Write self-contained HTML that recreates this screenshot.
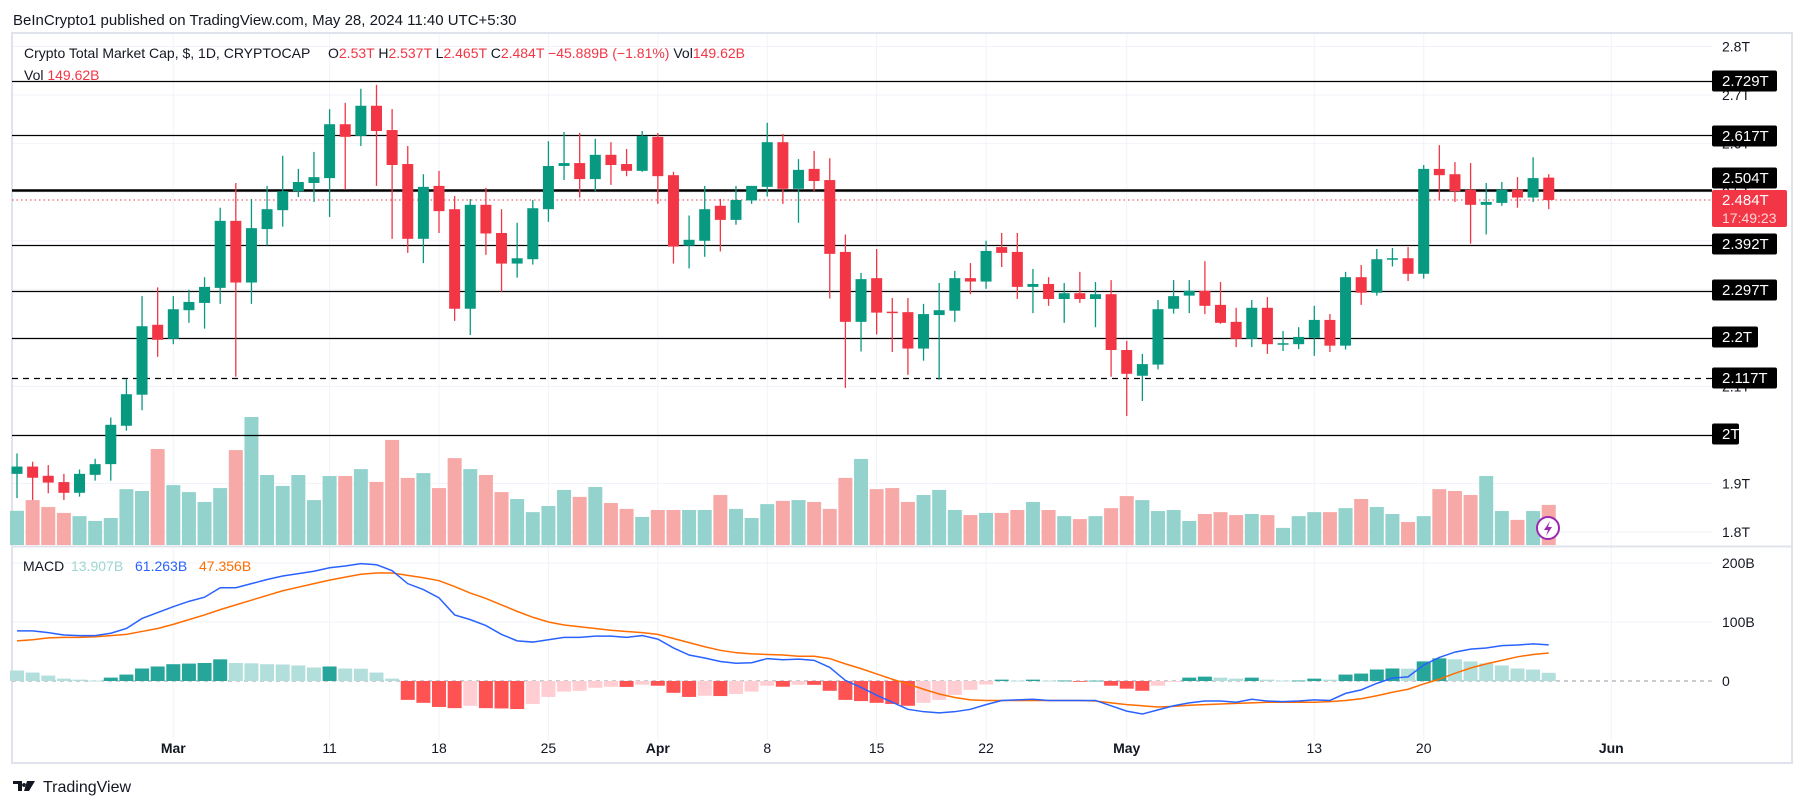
<!DOCTYPE html>
<html><head><meta charset="utf-8"><style>
html,body{margin:0;padding:0;background:#fff;}
svg{display:block;font-family:"Liberation Sans",sans-serif;}
</style></head><body>
<svg id="chart" width="1805" height="808" viewBox="0 0 1805 808">
<text x="13" y="25" font-size="15" fill="#131722">BeInCrypto1 published on TradingView.com, May 28, 2024 11:40 UTC+5:30</text>
<rect x="12" y="33" width="1780" height="730" fill="#fff" stroke="#e0e3eb" stroke-width="2"/>
<g id="grid"></g>
<g id="volume"></g>
<g id="levels"></g>
<g id="candles"></g>
<g id="macd"></g>
<g id="axis"></g>
<g font-size="14">
<text x="24" y="58" fill="#131722">Crypto Total Market Cap, $, 1D, CRYPTOCAP</text>
<text x="328" y="58" fill="#131722">O<tspan fill="#f23645">2.53T</tspan>  H<tspan fill="#f23645">2.537T</tspan>  L<tspan fill="#f23645">2.465T</tspan>  C<tspan fill="#f23645">2.484T</tspan>  <tspan fill="#f23645">−45.889B (−1.81%)</tspan>  Vol<tspan fill="#f23645">149.62B</tspan></text>
<text x="24" y="80" fill="#131722">Vol  <tspan fill="#f23645">149.62B</tspan></text>
</g>
<g font-size="14">
<text x="23" y="571" fill="#131722">MACD</text>
<text x="71" y="571" fill="#9fd6d1">13.907B</text>
<text x="135" y="571" fill="#2962ff">61.263B</text>
<text x="199" y="571" fill="#ff6d00">47.356B</text>
</g>
<g id="icons"></g>
<g><path d="M13 781 h9 v10 h-4 v-7 h-5 z M24 783 a2 2 0 1 0 0.1 0 z M27 781 h8 l-6 10 h-5 z" fill="#131722"/><text x="43" y="792" font-size="16" fill="#131722">TradingView</text></g>
</svg>
<script>
const opens=[1.920,1.935,1.916,1.903,1.881,1.918,1.940,2.019,2.083,2.227,2.198,2.257,2.272,2.303,2.441,2.314,2.424,2.463,2.502,2.519,2.529,2.640,2.616,2.678,2.628,2.558,2.404,2.513,
2.465,2.260,2.474,2.416,2.353,2.362,2.465,2.554,2.560,2.527,2.577,2.558,2.544,2.614,2.535,2.390,2.400,2.472,2.443,2.483,2.511,2.603,2.507,2.548,2.525,2.377,2.233,2.323,
2.254,2.253,2.178,2.247,2.256,2.323,2.316,2.387,2.377,2.305,2.311,2.280,2.292,2.280,2.290,2.175,2.122,2.145,2.260,2.287,2.297,2.268,2.233,2.198,2.262,2.188,2.187,2.200,
2.237,2.184,2.325,2.293,2.363,2.364,2.332,2.548,2.537,2.505,2.474,2.478,2.505,2.489,2.530];
const closes=[1.935,1.912,1.902,1.881,1.920,1.940,2.021,2.084,2.224,2.196,2.259,2.274,2.305,2.441,2.314,2.426,2.465,2.502,2.521,2.531,2.640,2.614,2.678,2.626,2.556,2.404,2.511,2.461,
2.260,2.474,2.415,2.353,2.364,2.467,2.554,2.560,2.527,2.577,2.556,2.544,2.616,2.533,2.388,2.402,2.465,2.443,2.484,2.513,2.603,2.507,2.546,2.523,2.373,2.233,2.321,2.252,
2.252,2.178,2.249,2.257,2.323,2.316,2.379,2.375,2.305,2.311,2.280,2.292,2.280,2.290,2.175,2.126,2.146,2.259,2.286,2.297,2.266,2.231,2.198,2.262,2.187,2.189,2.202,2.237,
2.184,2.325,2.293,2.362,2.364,2.332,2.548,2.535,2.502,2.474,2.480,2.505,2.489,2.529,2.484];
const highs=[1.962,1.945,1.938,1.920,1.929,1.951,2.036,2.115,2.286,2.304,2.286,2.299,2.325,2.468,2.519,2.486,2.513,2.575,2.548,2.583,2.671,2.684,2.713,2.721,2.671,2.595,2.537,2.544,
2.492,2.486,2.509,2.465,2.437,2.484,2.605,2.624,2.622,2.610,2.603,2.589,2.626,2.622,2.542,2.452,2.513,2.486,2.513,2.513,2.643,2.620,2.568,2.585,2.570,2.413,2.334,2.383,
2.282,2.282,2.270,2.313,2.338,2.354,2.400,2.416,2.416,2.342,2.325,2.313,2.336,2.315,2.319,2.194,2.167,2.278,2.319,2.319,2.358,2.315,2.262,2.278,2.284,2.214,2.222,2.266,
2.249,2.336,2.350,2.383,2.385,2.387,2.556,2.597,2.562,2.560,2.519,2.521,2.531,2.572,2.537];
const lows=[1.870,1.866,1.880,1.866,1.873,1.906,1.906,2.009,2.051,2.161,2.187,2.231,2.219,2.270,2.120,2.270,2.390,2.429,2.490,2.480,2.449,2.505,2.595,2.513,2.404,2.375,2.354,2.416,
2.235,2.206,2.371,2.295,2.324,2.351,2.439,2.525,2.489,2.502,2.515,2.533,2.542,2.476,2.353,2.343,2.367,2.378,2.433,2.476,2.491,2.476,2.437,2.502,2.281,2.097,2.172,2.207,
2.171,2.124,2.153,2.114,2.233,2.290,2.301,2.346,2.280,2.251,2.266,2.231,2.272,2.222,2.120,2.039,2.070,2.135,2.250,2.251,2.249,2.229,2.181,2.181,2.167,2.173,2.177,2.163,
2.171,2.176,2.268,2.287,2.347,2.317,2.322,2.484,2.480,2.394,2.413,2.472,2.468,2.480,2.465];
const volumes=[128,168,142,120,108,90,101,209,202,359,224,198,161,213,355,479,262,221,262,168,258,258,284,236,393,251,269,213,
325,284,262,198,172,123,146,206,180,217,157,135,105,131,131,131,131,187,135,101,153,165,168,161,135,251,322,209,
213,161,187,206,131,112,120,120,131,161,131,108,97,108,138,183,168,127,131,90,116,123,112,116,112,64,108,123,
123,138,172,142,116,86,108,209,202,187,258,127,94,127,150];
const macdLine=[85,85,82,78,77,77,81,89,106,116,126,135,142,158,158,165,172,178,182,186,192,195,199,197,187,165,155,141,112,104,94,79,68,66,70,74,74,76,76,74,77,71,56,44,39,33,30,31,38,36,37,
35,23,1,-11,-24,-36,-48,-52,-54,-52,-48,-40,-33,-32,-31,-33,-33,-33,-33,-42,-51,-56,-49,-42,-37,-34,-34,-36,-31,-34,-35,-34,-32,-33,-21,-15,-4,5,7,27,40,49,54,56,60,61,63,61.3];
const signalLine=[68,70,73,74,74,75,77,79,84,89,96,104,112,121,129,137,145,153,159,165,171,176,181,183,183,179,175,170,160,149,140,129,118,108,100,95,92,89,86,84,82,79,72,65,58,52,48,46,45,44,42,
42,38,29,21,12,3,-5,-14,-22,-28,-32,-33,-33,-33,-33,-33,-33,-33,-34,-37,-40,-42,-44,-43,-41,-40,-39,-38,-37,-36,-36,-36,-36,-35,-33,-30,-25,-19,-14,-5,3,13,22,29,35,41,45,47.4];
const histogram=[17.8,14.3,9.2,4,2.3,0.6,5.7,10.9,21.2,24.6,28.5,29.5,30.5,36.7,30.5,30,28.5,28,26.3,22.9,24.6,21.2,20.8,14.3,4,-32,-37,-44,-46,-42,-46,-46.5,-47.5,-39,-27,-18,-16.6,-11.5,-9.7,-10,-6.3,-8,-20,-27,-25,-25.5,-22,-18,-8,-9.7,-6.3,
-6.5,-16.6,-32,-34,-37,-39,-42,-37,-32,-23.5,-15,-6,2.3,0.6,2.3,0.6,0.8,-1,0.6,-8,-13,-16.6,-8,-0.5,5.7,7.4,5.7,4,5.7,2.3,0.6,0.8,4,2.3,10.9,12.6,19.5,21.2,20.8,33.2,38.4,36.7,33.2,29.8,26.3,21.2,19.5,13.9];
const priceTicks=["2.8T","2.7T","2.6T","2.5T","2.4T","2.3T","2.2T","2.1T","2T","1.9T","1.8T"];
const priceTickValues=[2.8,2.7,2.6,2.5,2.4,2.3,2.2,2.1,2.0,1.9,1.8];
const levelValues=[2.729,2.617,2.504,2.392,2.297,2.2,2.117,2.0];
const levelLabels=["2.729T","2.617T","2.504T","2.392T","2.297T","2.2T","2.117T","2T"];
const dateLabels=["Mar","11","18","25","Apr","8","15","22","May","13","20","Jun"];
const dateIndex=[10,20,27,34,41,48,55,62,71,83,90,102];
const macdTicks=["200B","100B","0"];
const macdTickValues=[200,100,0];

const NS="http://www.w3.org/2000/svg";
function mk(tag,attrs,parent){const e=document.createElementNS(NS,tag);for(const k in attrs)e.setAttribute(k,attrs[k]);parent.appendChild(e);return e;}
const xI=i=>17+i*15.63;
const yP=p=>435-(p-2)*485.6;
const yV=v=>545-v*0.2673;
const yM=v=>681-v*0.59;
const G="#089981",R="#f23645";
const grid=document.getElementById('grid'),vol=document.getElementById('volume'),lv=document.getElementById('levels'),cg=document.getElementById('candles'),mg=document.getElementById('macd'),ax=document.getElementById('axis'),icons=document.getElementById('icons');

priceTickValues.forEach((v,i)=>{
  const l=mk('line',{x1:13,x2:1712,y1:yP(v),y2:yP(v),stroke:'#f0f3fa'},grid);
  
  
  const t=mk('text',{x:1722,y:yP(v)+5,'font-size':14,fill:'#131722'},ax);
  t.textContent=priceTicks[i];
  
  
});
macdTickValues.forEach((v,i)=>{
  if(v!==0){const l=mk('line',{x1:13,x2:1712,y1:yM(v),y2:yM(v),stroke:'#f0f3fa'},grid);
  
  }
  const t=mk('text',{x:1722,y:yM(v)+5,'font-size':14,fill:'#131722'},ax);
  t.textContent=macdTicks[i];
  
  
});
dateIndex.forEach((d,i)=>{
  const x=xI(d);
  const l=mk('line',{x1:x,x2:x,y1:34,y2:740,stroke:'#f0f3fa'},grid);
  
  
  const bold=isNaN(+dateLabels[i]);
  const t=mk('text',{x:x,y:753,'font-size':14,'text-anchor':'middle',fill:'#131722','font-weight':bold?'bold':'normal'},ax);
  t.textContent=dateLabels[i];
  
  
});
const sep=mk('line',{x1:12,x2:1792,y1:546.5,y2:546.5,stroke:'#e0e3eb','stroke-width':2},grid);



volumes.forEach((v,i)=>{
  const up=closes[i]>=opens[i];
  const r=mk('rect',{x:xI(i)-7,y:yV(v),width:14,height:545-yV(v),fill:up?'#94d3cd':'#f7a9a7'},vol);
  
  
});

levelValues.forEach((v,i)=>{
  const y=Math.round(yP(v))+0.5;
  const attrs={x1:12,x2:1712,y1:y,y2:y,stroke:'#000','stroke-width':v===2.504?2.5:1.3};
  if(v===2.117)attrs['stroke-dasharray']='6 5';
  const l=mk('line',attrs,lv);
  
  
});
const cur=mk('line',{x1:12,x2:1712,y1:yP(closes[closes.length-1]),y2:yP(closes[closes.length-1]),stroke:R,'stroke-dasharray':'1.5 3'},lv);



opens.forEach((o,i)=>{
  const c=closes[i],up=c>=o,col=up?G:R,x=xI(i);
  const w=mk('line',{x1:x,x2:x,y1:yP(highs[i]),y2:yP(lows[i]),stroke:col,'stroke-width':1.3},cg);
  
  
  const top=yP(Math.max(o,c)),bot=yP(Math.min(o,c));
  const b=mk('rect',{x:x-5.5,y:top,width:11,height:Math.max(1.5,bot-top),fill:col},cg);
  
  
});

const z=mk('line',{x1:12,x2:1712,y1:yM(0),y2:yM(0),stroke:'#9598a1','stroke-dasharray':'4 4'},mg);


histogram.forEach((h,i)=>{
  const prev=i>0?histogram[i-1]:Infinity;
  let col;
  if(h>=0)col=(i>0&&h>prev)?'#26a69a':'#b2dfdb';
  else col=(h<prev)?'#ff5252':'#ffcdd2';
  const y1=Math.min(yM(h),yM(0)),y2=Math.max(yM(h),yM(0));
  const r=mk('rect',{x:xI(i)-7,y:y1,width:14,height:Math.max(0.8,y2-y1),fill:col},mg);
  
  
});
function poly(arr,col,name){
  const p=mk('polyline',{points:arr.map((v,i)=>xI(i)+','+yM(v)).join(' '),fill:'none',stroke:col,'stroke-width':1.5},mg);
  
  
}
poly(signalLine,'#ff6d00','signal-line');
poly(macdLine,'#2962ff','macd-line');

const labelY={"2.729":81,"2.617":136,"2.504":178,"2.392":244,"2.297":290,"2.2":337,"2.117":378,"2":434};
levelValues.forEach((v,i)=>{
  const cy=labelY[String(v)];
  const w=levelLabels[i].length*9.5+8;
  const r=mk('rect',{x:1712,y:cy-10.5,width:w,height:21,rx:2,fill:'#000'},ax);
  
  
  const t=mk('text',{x:1722,y:cy+5,'font-size':15,fill:'#fff'},ax);
  t.textContent=levelLabels[i];
  
  
});
const pr=mk('rect',{x:1712,y:190,width:75,height:37,rx:2,fill:R},ax);


const pt=mk('text',{x:1722,y:205,'font-size':15,fill:'#fff'},ax);
pt.textContent='2.484T';


const ct=mk('text',{x:1722,y:223,'font-size':14,fill:'#ffd5d8'},ax);
ct.textContent='17:49:23';



const ic=mk('g',{},icons);


mk('circle',{cx:1548,cy:528,r:11,fill:'#fff',stroke:'#9c27b0','stroke-width':2},ic);
mk('path',{d:'M1550 521 L1544 530 L1548 530 L1546 536 L1552 527 L1548 527 Z',fill:'#9c27b0'},ic);
</script>
</body></html>
